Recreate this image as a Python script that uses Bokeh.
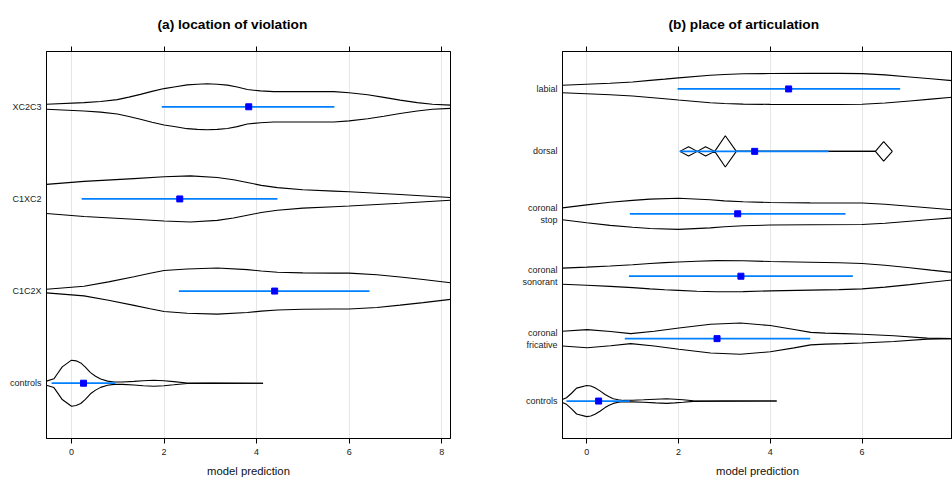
import numpy as np
from bokeh.plotting import figure
from bokeh.layouts import row
from bokeh.models import Range1d, FixedTicker, LinearAxis
from bokeh.embed import file_html
from bokeh.resources import INLINE

# ---------------- data: panel (a) ----------------
cats_a = ["controls", "C1C2X", "C1XC2", "XC2C3"]
lo_a = [-0.43, 2.32, 0.22, 1.95]
mid_a = [0.26, 4.39, 2.34, 3.83]
hi_a = [0.95, 6.44, 4.45, 5.68]

controls_a_x = [-0.54, -0.38, -0.3, -0.2, 0.0, 0.1, 0.2, 0.3, 0.41, 0.52, 0.63, 0.78, 0.92, 1.1,
                1.35, 1.55, 1.78, 2.0, 2.21, 2.5, 3.0, 4.14]
controls_a_d = [0.09, 0.19, 0.42, 0.71, 1.0, 0.97, 0.88, 0.7, 0.46, 0.3, 0.18, 0.09, 0.05, 0.05,
                0.08, 0.11, 0.13, 0.11, 0.07, 0.01, 0.005, 0.0]
c1c2x_x = [-0.54, 0.27, 0.8, 1.35, 1.7, 2.0, 2.5, 3.15, 3.8, 4.1, 4.45, 5.0, 5.67, 6.0, 6.6, 7.1, 7.6, 8.19]
c1c2x_d = [0.08, 0.21, 0.40, 0.62, 0.77, 0.89, 0.96, 1.0, 0.93, 0.87, 0.82, 0.79, 0.78, 0.78, 0.71,
           0.61, 0.50, 0.36]
c1xc2_x = [-0.54, 0.27, 1.35, 2.0, 2.57, 3.15, 3.5, 3.8, 4.1, 4.45, 5.0, 5.67, 6.0, 7.1, 8.19]
c1xc2_d = [0.63, 0.76, 0.88, 0.96, 1.0, 0.93, 0.83, 0.71, 0.59, 0.49, 0.40, 0.34, 0.31, 0.19, 0.06]
xc2c3_x = [-0.54, 0.27, 0.63, 0.99, 1.24, 1.49, 1.74, 2.0, 2.25, 2.5, 2.72, 2.93, 3.15, 3.37, 3.58,
           3.8, 4.08, 4.37, 5.0, 5.67, 6.0, 6.4, 6.75, 7.1, 7.47, 7.8, 8.19]
xc2c3_d = [0.11, 0.18, 0.23, 0.31, 0.42, 0.54, 0.67, 0.79, 0.87, 0.95, 0.98, 1.0, 0.98, 0.94, 0.86,
           0.75, 0.69, 0.66, 0.66, 0.66, 0.61, 0.52, 0.41, 0.29, 0.18, 0.11, 0.07]

# ---------------- data: panel (b) ----------------
cats_b = ["controls", "coronal\nfricative", "coronal\nsonorant", "coronal\nstop", "dorsal", "labial"]
lo_b = [-0.44, 0.83, 0.92, 0.94, 2.03, 1.98]
mid_b = [0.26, 2.84, 3.36, 3.29, 3.66, 4.40]
hi_b = [0.94, 4.87, 5.80, 5.64, 5.27, 6.83]

controls_b_x = [-0.53, -0.44, -0.33, -0.22, 0.0, 0.09, 0.18, 0.29, 0.4, 0.49, 0.58, 0.69, 0.8, 1.0,
                1.24, 1.5, 1.74, 1.92, 2.1, 2.32, 3.0, 4.14]
controls_b_d = [0.1, 0.21, 0.5, 0.83, 1.0, 0.96, 0.85, 0.65, 0.42, 0.27, 0.15, 0.08, 0.04, 0.05,
                0.08, 0.12, 0.15, 0.12, 0.08, 0.02, 0.005, 0.0]
fric_x = [-0.53, 0.01, 0.52, 0.96, 1.47, 2.01, 2.70, 3.35, 4.0, 4.52, 4.88, 5.2, 5.6, 6.0, 6.69,
          7.42, 7.97, 8.2]
fric_d = [0.47, 0.58, 0.46, 0.32, 0.47, 0.68, 0.92, 1.0, 0.84, 0.59, 0.4, 0.35, 0.32, 0.28, 0.18,
          0.03, 0.0, 0.0]
son_x = [-0.53, 0.0, 0.51, 1.0, 1.38, 1.7, 2.0, 2.4, 2.83, 3.41, 4.0, 4.87, 5.5, 6.0, 6.5, 7.04,
         7.5, 7.97, 8.2]
son_d = [0.52, 0.58, 0.65, 0.73, 0.81, 0.87, 0.91, 0.96, 1.0, 0.99, 0.94, 0.89, 0.86, 0.81, 0.70,
         0.54, 0.39, 0.24, 0.2]
stop_x = [-0.53, 0.0, 0.51, 1.0, 1.38, 2.0, 2.69, 3.0, 3.41, 4.0, 4.87, 6.0, 6.5, 7.04, 7.5, 7.97, 8.2]
stop_d = [0.38, 0.57, 0.74, 0.86, 0.94, 1.0, 0.9, 0.83, 0.77, 0.72, 0.70, 0.69, 0.61, 0.48, 0.37,
          0.26, 0.22]
dorsal_x = [2.03, 2.22, 2.41, 2.59, 2.79, 3.02, 3.26, 6.29, 6.47, 6.66]
dorsal_d = [0.0, 0.3, 0.0, 0.3, 0.0, 1.0, 0.0, 0.0, 0.63, 0.0]
labial_x = [-0.53, 0.51, 1.0, 1.38, 1.7, 2.0, 2.69, 3.0, 3.41, 4.0, 4.87, 5.5, 6.0, 6.5, 7.04,
            7.5, 7.97, 8.2]
labial_d = [0.24, 0.37, 0.45, 0.55, 0.63, 0.71, 0.88, 0.93, 0.97, 0.99, 1.0, 1.0, 0.98, 0.90,
            0.77, 0.65, 0.53, 0.48]

x_ticks = [0, 2, 4, 6, 8]

FONT = "Liberation Sans"


def make_panel(title, cats, violins, lo, mid, hi, xr, yr, width, mbl, mbr, toff):
    p = figure(width=width, height=479, x_range=Range1d(*xr), y_range=Range1d(*yr),
               output_backend="svg", toolbar_location=None,
               min_border_left=mbl, min_border_right=mbr, min_border_top=50,
               min_border_bottom=40, background_fill_color="white",
               border_fill_color="white")
    p.title.text = title
    p.title.align = "left"
    p.title.offset = toff
    p.title.text_font = FONT
    p.title.text_font_size = "13.7px"
    p.title.text_font_style = "bold"
    p.title.text_color = "black"
    p.title.standoff = 29
    p.outline_line_color = "black"
    p.outline_line_width = 1
    p.ygrid.visible = False
    p.xgrid.grid_line_color = "#e6e6e6"
    p.xgrid.ticker = FixedTicker(ticks=x_ticks)

    xa = p.xaxis[0]
    xa.ticker = FixedTicker(ticks=x_ticks)
    xa.major_tick_in = 0
    xa.major_tick_out = 5
    xa.minor_tick_line_color = None
    xa.major_label_standoff = 5
    xa.major_label_text_font = FONT
    xa.major_label_text_font_size = "9px"
    xa.major_label_text_color = "#222222"
    xa.axis_label = "model prediction"
    xa.axis_label_text_font = FONT
    xa.axis_label_text_font_size = "11.3px"
    xa.axis_label_text_font_style = "normal"
    xa.axis_label_text_color = "#111111"
    xa.axis_label_standoff = 7
    xa.axis_line_color = "black"

    top = LinearAxis(ticker=FixedTicker(ticks=x_ticks), major_tick_in=0, major_tick_out=5,
                     minor_tick_line_color=None,
                     major_label_overrides={t: "" for t in x_ticks},
                     major_label_text_font_size="1px",
                     major_label_standoff=0, axis_line_color="black")
    p.add_layout(top, "above")

    ya = p.yaxis[0]
    ya.ticker = FixedTicker(ticks=list(range(1, len(cats) + 1)))
    ya.major_label_overrides = {i + 1: c for i, c in enumerate(cats)}
    ya.major_tick_in = 0
    ya.major_tick_out = 0
    ya.minor_tick_line_color = None
    ya.major_label_standoff = 5
    ya.major_label_text_font = FONT
    ya.major_label_text_font_size = "9px"
    ya.major_label_text_color = "#222222"
    ya.axis_line_color = "black"

    for i, (vx, vd) in enumerate(violins):
        pos = i + 1
        vx = np.asarray(vx, dtype=float)
        vd = np.asarray(vd, dtype=float)
        p.line(vx, pos + 0.25 * vd, line_color="black", line_width=1.1)
        p.line(vx, pos - 0.25 * vd, line_color="black", line_width=1.1)

    pos = list(range(1, len(cats) + 1))
    p.segment(x0=lo, y0=pos, x1=hi, y1=pos, line_color="#0080ff", line_width=1.7)
    p.scatter(mid, pos, marker="square", size=6, fill_color="#0000ff", line_color="#0000ff")
    return p


pa = make_panel("(a) location of violation", cats_a,
                [(controls_a_x, controls_a_d), (c1c2x_x, c1c2x_d), (c1xc2_x, c1xc2_d), (xc2c3_x, xc2c3_d)],
                lo_a, mid_a, hi_a, (-0.54, 8.19), (0.4, 4.6), 476, 46, 26, 111)
pb = make_panel("(b) place of articulation", cats_b,
                [(controls_b_x, controls_b_d), (fric_x, fric_d), (son_x, son_d), (stop_x, stop_d),
                 (dorsal_x, dorsal_d), (labial_x, labial_d)],
                lo_b, mid_b, hi_b, (-0.527, 7.97), (0.4, 6.6), 476, 86, 0, 106)

layout = row(pa, pb)
open("out.html", "w").write(file_html(layout, INLINE))
